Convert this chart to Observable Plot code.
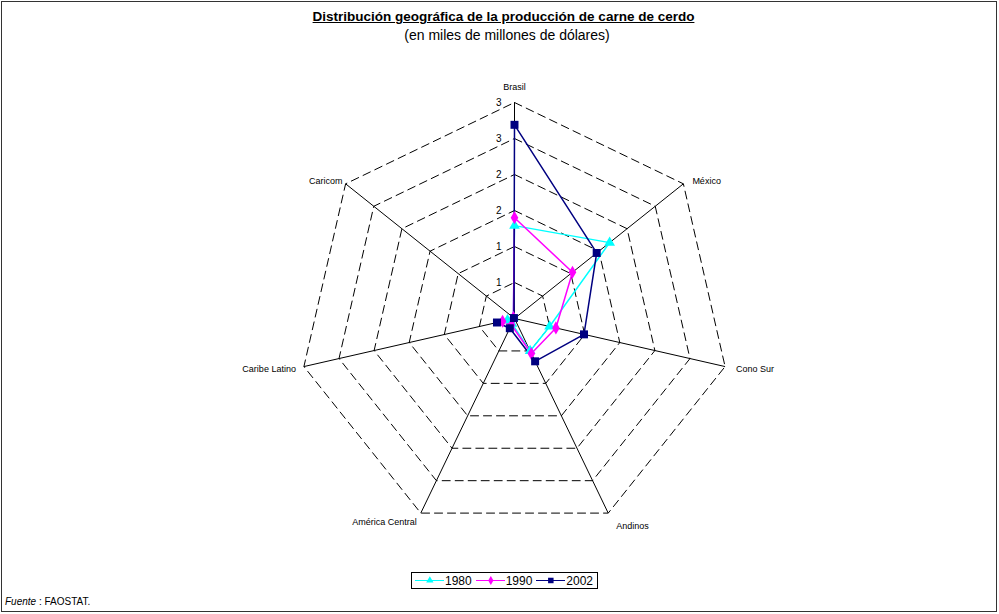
<!DOCTYPE html>
<html>
<head>
<meta charset="utf-8">
<script src="https://cdn.jsdelivr.net/npm/d3@7"></script>
<script src="https://cdn.jsdelivr.net/npm/@observablehq/plot@0.6"></script>
<style>
  body { margin: 0; background: #fff; font-family: "Liberation Sans", Arial, sans-serif; }
  #wrap { position: relative; width: 999px; height: 614px; overflow: hidden; }
  #frame { position: absolute; left: 1px; top: 1px; width: 996px; height: 611px; border: 1px solid #333; box-sizing: border-box; pointer-events: none; }
  #title { position: absolute; left: 0; width: 1007px; top: 9px; text-align: center; font-weight: bold; font-size: 13.5px; line-height: 16px; text-decoration: underline; color: #000; }
  #subtitle { position: absolute; left: 0; width: 1014px; top: 27px; text-align: center; font-size: 14px; line-height: 16px; color: #000; }
  #chart { position: absolute; left: 0; top: 0; }
  #legend { position: absolute; left: 411px; top: 572px; width: 187px; height: 17px; border: 1px solid #000; box-sizing: border-box; display: flex; align-items: center; font-size: 12px; padding-left: 3px; }
  #legend .item { display: flex; align-items: center; margin-right: 4px; }
  #legend svg { margin-right: 1px; }
  #source { position: absolute; left: 5px; top: 596px; font-size: 10px; }
</style>
</head>
<body>
<div id="wrap">
  <div id="chart"></div>
  <div id="title">Distribución geográfica de la producción de carne de cerdo</div>
  <div id="subtitle">(en miles de millones de dólares)</div>
  <div id="legend"></div>
  <div id="source"><i>Fuente</i> : FAOSTAT.</div>
  <div id="frame"></div>
</div>
<script>
// ---- Data ----
const categories = ["Brasil", "México", "Cono Sur", "Andinos", "América Central", "Caribe Latino", "Caricom"];
const years = ["1980", "1990", "2002"];
const v1980 = [1.29, 1.69, 0.50, 0.50, 0.08, 0.10, 0.02];
const v1990 = [1.40, 1.03, 0.59, 0.54, 0.10, 0.17, 0.02];
const v2002 = [2.69, 1.46, 0.99, 0.66, 0.15, 0.25, 0.01];
const ringValues = [0.5, 1, 1.5, 2, 2.5, 3];
const tickLabels = ["1", "1", "2", "2", "3", "3"];
const maxValue = 3;

// ---- Styling ----
const colors = {"1980": "#00FFFF", "1990": "#FF00FF", "2002": "#000080"};
const symbols = {"1980": "triangle", "1990": "diamond", "2002": "square"};
const seriesValues = {"1980": v1980, "1990": v1990, "2002": v2002};

const n = categories.length;
const ang = i => (2 * Math.PI * i) / n;
const px = (i, v) => v * Math.sin(ang(i));
const py = (i, v) => v * Math.cos(ang(i));

// label placement offsets (layout)
const labelLayout = [
  {anchor: "middle", dx: 0, dy: -15},
  {anchor: "start", dx: 9, dy: -3},
  {anchor: "start", dx: 11, dy: 3},
  {anchor: "start", dx: 8, dy: 13},
  {anchor: "end", dx: -4, dy: 9},
  {anchor: "end", dx: -8, dy: 3},
  {anchor: "end", dx: -3, dy: -3}
];

const rings = ringValues.flatMap((r, k) => categories.map((c, i) => ({ring: k, x: px(i, r), y: py(i, r)})));
const spokes = categories.map((c, i) => ({x1: 0, y1: 0, x2: px(i, maxValue), y2: py(i, maxValue)}));
const labels = categories.map((c, i) => ({name: c, x: px(i, maxValue), y: py(i, maxValue), ...labelLayout[i]}));
const ticks = ringValues.map((r, k) => ({x: 0, y: r, t: tickLabels[k]}));
const series = years.flatMap(yr => seriesValues[yr].map((v, i) => ({year: yr, cat: categories[i], x: px(i, v), y: py(i, v)})));

const unit = 72; // px per data unit
const W = 999, H = 614, cx = 514, cy = 318;

const marks = [
  Plot.line(rings, {x: "x", y: "y", z: "ring", curve: "linear-closed", stroke: "#000", strokeWidth: 1, strokeDasharray: "8,5"}),
  Plot.link(spokes, {x1: "x1", y1: "y1", x2: "x2", y2: "y2", stroke: "#000", strokeWidth: 1}),
  Plot.text(ticks, {x: "x", y: "y", text: "t", textAnchor: "end", dx: -13, fontSize: 10, fill: "#000"}),
];
for (const d of labels) {
  marks.push(Plot.text([d], {x: "x", y: "y", text: "name", textAnchor: d.anchor, dx: d.dx, dy: d.dy, fontSize: 9, fill: "#000"}));
}
for (const yr of years) {
  const s = series.filter(d => d.year === yr);
  marks.push(Plot.line(s, {x: "x", y: "y", curve: "linear-closed", stroke: colors[yr], strokeWidth: 1.5}));
}
for (const yr of years) {
  const s = series.filter(d => d.year === yr);
  marks.push(Plot.dot(s, {x: "x", y: "y", symbol: symbols[yr], fill: colors[yr], stroke: "none", r: yr === "2002" ? 4.5 : 4}));
}

const chart = Plot.plot({
  width: W, height: H, margin: 0,
  style: {fontFamily: "'Liberation Sans', Arial, sans-serif", background: "transparent"},
  x: {domain: [-cx / unit, (W - cx) / unit], axis: null},
  y: {domain: [-(H - cy) / unit, cy / unit], axis: null},
  marks
});
document.getElementById("chart").appendChild(chart);

// legend
const legend = document.getElementById("legend");
for (const yr of years) {
  const item = document.createElement("div");
  item.className = "item";
  const sw = Plot.plot({
    width: 42, height: 12, margin: 0,
    x: {domain: [0, 2], axis: null}, y: {domain: [0, 1], axis: null},
    marks: [
      Plot.lineX([0, 2], {y: [0.5, 0.5], stroke: colors[yr], strokeWidth: 1.5}),
      Plot.dot([{x: 1, y: 0.5}], {x: "x", y: "y", symbol: symbols[yr], fill: colors[yr], r: yr === "2002" ? 4.5 : 4})
    ]
  });
  item.appendChild(sw);
  const t = document.createElement("span");
  t.textContent = yr;
  item.appendChild(t);
  legend.appendChild(item);
}
</script>
</body>
</html>
